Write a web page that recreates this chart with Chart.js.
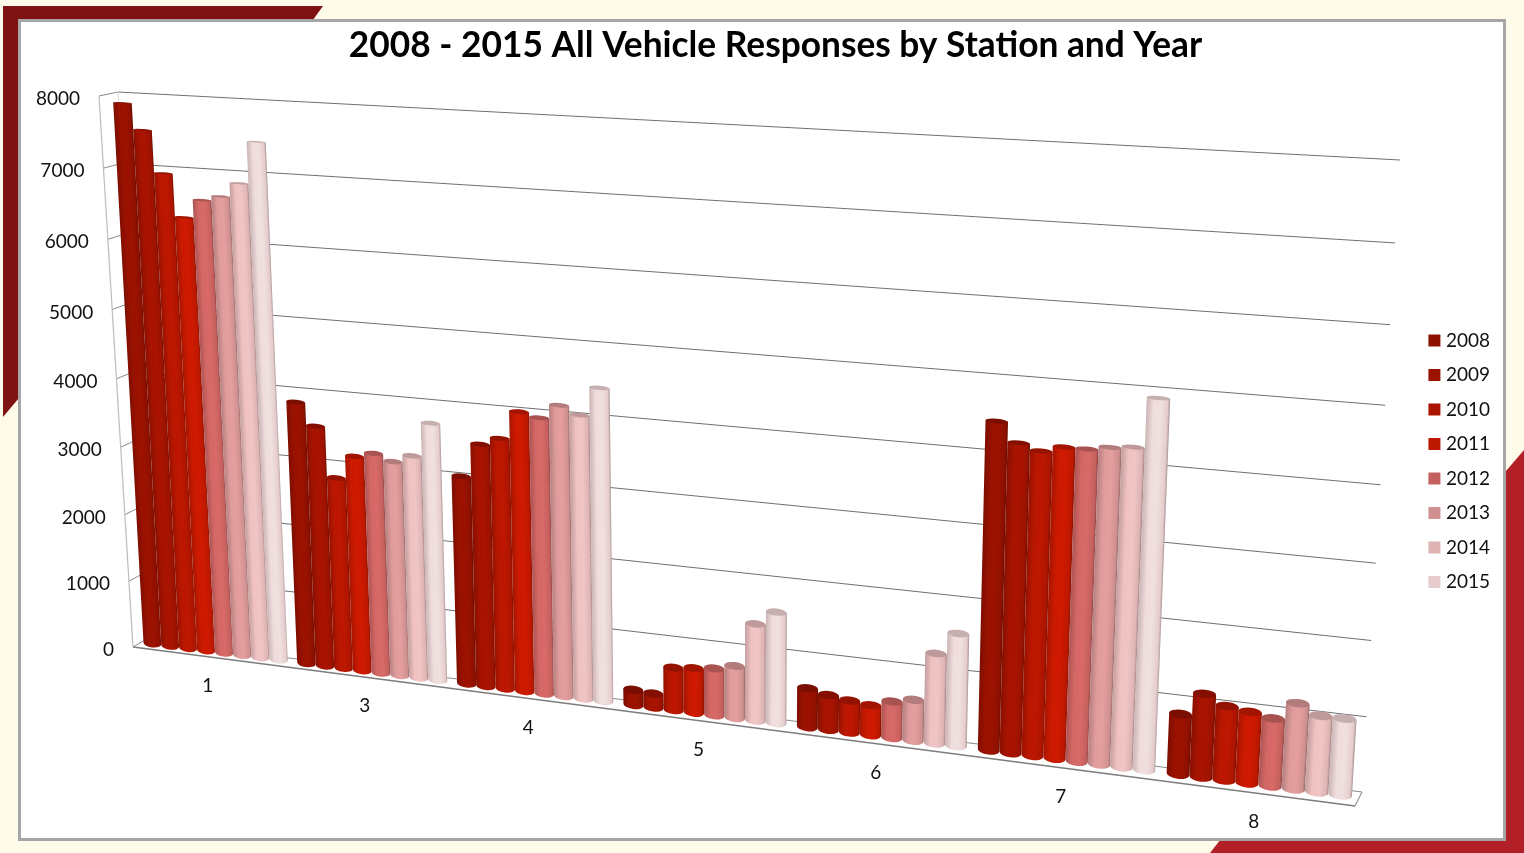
<!DOCTYPE html>
<html>
<head>
<meta charset="utf-8">
<title>All Vehicle Responses</title>
<script src="https://cdn.jsdelivr.net/npm/chart.js@4"></script>
<style>
  html, body { margin: 0; background: #fffbea; overflow: hidden; }
  #page { position: relative; width: 1524px; height: 853px; }
  .corner { position: absolute; left: 0; top: 0; width: 1524px; height: 853px; }
  #cornerTop { background: #7f1212; clip-path: polygon(3px 6px, 323px 6px, 310px 24px, 24px 24px, 24px 392px, 3px 417px); }
  #cornerBottom { background: #b31f26; clip-path: polygon(1524px 450px, 1524px 853px, 1210px 853px, 1224px 835px, 1500px 835px, 1500px 478px); }
  #panel { position: absolute; left: 18px; top: 19px; width: 1482px; height: 816px; background: #fff; border: 3px solid #a6a6a6; }
  canvas { position: absolute; left: 0; top: 0; }
</style>
</head>
<body>
<div id="page">
  <div class="corner" id="cornerTop"></div>
  <div class="corner" id="cornerBottom"></div>
  <div id="panel"></div>
  <canvas id="responses" width="1524" height="853"></canvas>
</div>
<script>
const stations = ["1", "3", "4", "5", "6", "7", "8"];
const years = ["2008", "2009", "2010", "2011", "2012", "2013", "2014", "2015"];
const yearColors = ["#8e1000", "#9a1200", "#ac1500", "#bc1800", "#c4605e", "#cf9090", "#deb3b3", "#e6cccc"];

const responses2008 = [7890, 3840, 3010, 220, 550, 4460, 820];
const responses2009 = [7530, 3520, 3490, 200, 490, 4200, 1130];
const responses2010 = [6940, 2800, 3600, 610, 450, 4120, 1000];
const responses2011 = [6340, 3140, 4000, 640, 420, 4200, 960];
const responses2012 = [6600, 3210, 3940, 670, 510, 4200, 910];
const responses2013 = [6670, 3120, 4140, 740, 570, 4250, 1150];
const responses2014 = [6870, 3230, 4030, 1370, 1250, 4280, 1020];
const responses2015 = [7460, 3720, 4430, 1570, 1560, 4940, 1020];
const responsesByYear = [responses2008, responses2009, responses2010, responses2011,
  responses2012, responses2013, responses2014, responses2015];

const FONT = "Lato, 'Open Sans', sans-serif";

// unit square -> quad (bl, br, tr, tl), used for the fake 3D look
function projector(q) {
  const [p0, p1, p2, p3] = q;
  const dx1 = p1[0] - p2[0], dx2 = p3[0] - p2[0], sx = p0[0] - p1[0] + p2[0] - p3[0];
  const dy1 = p1[1] - p2[1], dy2 = p3[1] - p2[1], sy = p0[1] - p1[1] + p2[1] - p3[1];
  const det = dx1 * dy2 - dx2 * dy1;
  const g = (sx * dy2 - dx2 * sy) / det;
  const h = (dx1 * sy - sx * dy1) / det;
  const a = p1[0] - p0[0] + g * p1[0], b = p3[0] - p0[0] + h * p3[0];
  const d = p1[1] - p0[1] + g * p1[1], e = p3[1] - p0[1] + h * p3[1];
  return (u, v) => {
    const w = g * u + h * v + 1;
    return { x: (a * u + b * v + p0[0]) / w, y: (d * u + e * v + p0[1]) / w };
  };
}

const backWall = projector([[145, 640], [1362, 792], [1400, 160], [118, 92]]);
const barPlane = projector([[139, 642], [1358, 797], [1396, 167], [108, 94]]);
const frontPlane = projector([[133, 647], [1355, 806], [1393, 174], [99, 96]]);

function shade(hex, k) {
  const n = parseInt(hex.slice(1), 16);
  const c = [n >> 16, (n >> 8) & 255, n & 255].map((ch) => Math.min(240, Math.round(ch * k)));
  return `rgb(${c[0]},${c[1]},${c[2]})`;
}

function line(ctx, a, b, color, width) {
  ctx.strokeStyle = color;
  ctx.lineWidth = width;
  ctx.beginPath();
  ctx.moveTo(a.x, a.y);
  ctx.lineTo(b.x, b.y);
  ctx.stroke();
}

function drawCylinder(ctx, bar, area, color) {
  const toU = (px) => (px - area.left) / (area.right - area.left);
  const toV = (py) => (area.bottom - py) / (area.bottom - area.top);
  const lu = toU(bar.x - bar.width / 2), ru = toU(bar.x + bar.width / 2);
  const topV = toV(bar.y), baseV = toV(bar.base);
  const lb = barPlane(lu, baseV), rb = barPlane(ru, baseV);
  const lt = barPlane(lu, topV), rt = barPlane(ru, topV);
  const cb = { x: (lb.x + rb.x) / 2, y: (lb.y + rb.y) / 2 };
  const ct = { x: (lt.x + rt.x) / 2, y: (lt.y + rt.y) / 2 };
  const rxB = Math.hypot(rb.x - lb.x, rb.y - lb.y) / 2;
  const rxT = Math.hypot(rt.x - lt.x, rt.y - lt.y) / 2;
  const ryB = 0.36 * rxB + 0.5;
  const ryT = 0.36 * rxT * (1 - topV) + 0.5;
  const rotB = Math.atan2(rb.y - lb.y, rb.x - lb.x);
  const rotT = Math.atan2(rt.y - lt.y, rt.x - lt.x);

  // shading runs across the cylinder, square to its leaning axis
  const ax = ct.x - cb.x, ay = ct.y - cb.y, len = Math.hypot(ax, ay) || 1;
  const nx = -ay / len, ny = ax / len;
  const sign = nx < 0 ? -1 : 1;
  const grad = ctx.createLinearGradient(
    ct.x - sign * nx * rxT, ct.y - sign * ny * rxT,
    ct.x + sign * nx * rxT, ct.y + sign * ny * rxT);
  grad.addColorStop(0, shade(color, 0.88));
  grad.addColorStop(0.3, shade(color, 1.08));
  grad.addColorStop(0.6, shade(color, 1.1));
  grad.addColorStop(0.9, shade(color, 1.0));
  grad.addColorStop(1, shade(color, 0.72));

  ctx.fillStyle = grad;
  ctx.beginPath();
  ctx.moveTo(lt.x, lt.y);
  ctx.lineTo(lb.x, lb.y);
  ctx.ellipse(cb.x, cb.y, rxB, ryB, rotB, Math.PI, 0, true);
  ctx.lineTo(rt.x, rt.y);
  ctx.closePath();
  ctx.fill();

  ctx.fillStyle = shade(color, 0.86);
  ctx.beginPath();
  ctx.ellipse(ct.x, ct.y, rxT, ryT, rotT, 0, Math.PI * 2);
  ctx.fill();
}

const perspective = {
  id: "perspective",
  beforeDatasetsDraw(chart) {
    const { ctx, chartArea: area, scales } = chart;
    const yScale = scales.y, xScale = scales.x;
    const toV = (py) => (area.bottom - py) / (area.bottom - area.top);

    ctx.save();
    // walls and floor
    yScale.ticks.forEach((tick) => {
      const v = toV(yScale.getPixelForValue(tick.value));
      if (v > 0) line(ctx, backWall(0, v), backWall(1, v), "#6f6f6f", 1);
      line(ctx, frontPlane(0, v), backWall(0, v), "#8a8a8a", 1);
    });
    line(ctx, frontPlane(0, 0), frontPlane(0, 1), "#bdbdbd", 1.2);
    line(ctx, backWall(0, 0), backWall(0, 1), "#d8d8d8", 1);
    line(ctx, backWall(0, 0), backWall(1, 0), "#8a8a8a", 1);
    line(ctx, backWall(1, 0), frontPlane(1, 0), "#9a9a9a", 1.2);
    line(ctx, frontPlane(0, 0), frontPlane(1, 0), "#7d7d7d", 1.4);

    // later years sit in front of earlier ones
    chart.data.datasets.forEach((ds, i) => {
      chart.getDatasetMeta(i).data.forEach((bar) => drawCylinder(ctx, bar, area, ds.backgroundColor));
    });

    // axis text
    ctx.fillStyle = "#111";
    ctx.font = `19px ${FONT}`;
    ctx.textBaseline = "middle";
    ctx.textAlign = "right";
    yScale.ticks.forEach((tick) => {
      const p = frontPlane(0, toV(yScale.getPixelForValue(tick.value)));
      ctx.fillText(String(tick.value), p.x - 19, p.y + 3);
    });
    ctx.textAlign = "center";
    stations.forEach((name, i) => {
      const p = frontPlane((xScale.getPixelForValue(i) - area.left) / (area.right - area.left), 0);
      ctx.fillText(name, p.x - 1.5, p.y + 29);
    });
    ctx.restore();
    return false;
  },
};

new Chart(document.getElementById("responses"), {
  type: "bar",
  data: {
    labels: stations,
    datasets: years.map((year, i) => ({
      label: year,
      data: responsesByYear[i],
      backgroundColor: yearColors[i],
      // only the legend swatch uses these: small box + thick border keeps it close to its text
      borderColor: yearColors[i],
      borderWidth: 8,
      categoryPercentage: 0.94,
      barPercentage: 1,
    })),
  },
  options: {
    responsive: false,
    animation: false,
    layout: { padding: { left: 51, right: 24, top: 4, bottom: 246 } },
    plugins: {
      title: {
        display: true,
        text: "2008 - 2015 All Vehicle Responses by Station and Year",
        color: "#000",
        font: { family: FONT, size: 35.3, weight: "bold" },
        padding: { top: 20, bottom: 10 },
      },
      legend: {
        position: "right",
        align: "end",
        labels: {
          color: "#111",
          font: { family: FONT, size: 19 },
          boxWidth: 4,
          boxHeight: 4,
          padding: 15.5,
        },
      },
      tooltip: { enabled: false },
    },
    scales: {
      x: { display: false },
      y: { display: false, min: 0, max: 8000, ticks: { stepSize: 1000 } },
    },
  },
  plugins: [perspective],
});
</script>
</body>
</html>
